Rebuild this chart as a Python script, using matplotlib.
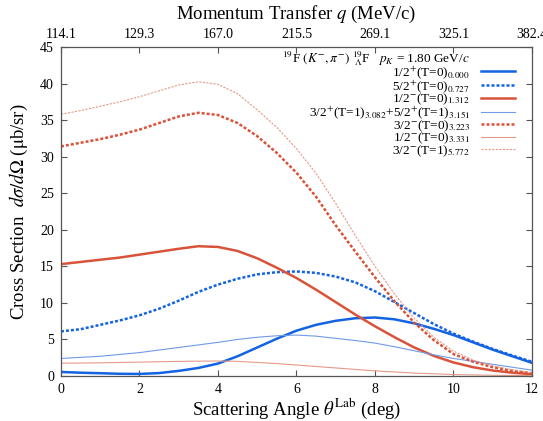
import numpy as np
import matplotlib
matplotlib.use('Agg')
import matplotlib.pyplot as plt
from matplotlib.lines import Line2D

plt.rcParams['font.family'] = ['Liberation Serif', 'DejaVu Serif']
plt.rcParams['mathtext.fontset'] = 'stix'

# 산란각 (deg)
theta = [0, 0.5, 1, 1.5, 2, 2.5, 3, 3.5, 4, 4.5, 5, 5.5, 6, 6.5, 7, 7.5, 8, 8.5,
         9, 9.5, 10, 10.5, 11, 11.5, 12]

s_half_p_000 = [0.55, 0.45, 0.38, 0.3, 0.28, 0.4, 0.7, 1.1, 1.7, 2.7, 3.9, 5.1, 6.2,
                7.0, 7.55, 7.9, 8.0, 7.75, 7.2, 6.45, 5.6, 4.6, 3.6, 2.7, 1.8]
s_52p_0727 = [6.1, 6.4, 7.0, 7.6, 8.3, 9.2, 10.3, 11.5, 12.5, 13.3, 13.9, 14.2, 14.3,
              14.1, 13.6, 12.8, 11.6, 10.1, 8.6, 7.1, 5.8, 4.7, 3.7, 2.8, 1.95]
s_half_m_1312 = [15.3, 15.6, 15.9, 16.2, 16.6, 17.0, 17.4, 17.75, 17.65, 17.1, 16.1, 14.8,
                 13.4, 11.8, 10.1, 8.4, 6.8, 5.3, 3.9, 2.75, 1.85, 1.2, 0.75, 0.45, 0.25]
s_32p_52p = [2.4, 2.55, 2.7, 2.95, 3.2, 3.55, 3.9, 4.25, 4.6, 5.0, 5.3, 5.5, 5.6, 5.45,
             5.15, 4.85, 4.5, 4.0, 3.45, 2.9, 2.4, 2.0, 1.6, 1.2, 0.8]
s_32m_3223 = [31.4, 31.9, 32.4, 33.0, 33.7, 34.6, 35.5, 36.0, 35.7, 34.6, 32.8, 30.5,
              27.8, 24.5, 20.6, 17.0, 13.5, 10.2, 7.3, 4.9, 3.0, 1.95, 1.2, 0.7, 0.35]
s_half_m_3331 = [1.75, 1.77, 1.8, 1.85, 1.9, 1.95, 2.0, 2.03, 2.05, 2.0, 1.85, 1.7, 1.5,
                 1.3, 1.1, 0.9, 0.7, 0.55, 0.4, 0.3, 0.2, 0.15, 0.1, 0.07, 0.05]
s_32m_5772 = [35.8, 36.3, 36.9, 37.5, 38.2, 39.0, 39.8, 40.25, 39.9, 38.6, 36.4, 34.0,
              31.1, 27.7, 23.6, 19.2, 15.0, 11.2, 7.9, 5.3, 3.4, 2.2, 1.4, 0.85, 0.5]

q_ticks = [0, 2, 4, 6, 8, 10, 12]
q_labels = ['114.1', '129.3', '167.0', '215.5', '269.1', '325.1', '382.4']

blue = '#1463e2'
red = '#d9533a'
lblue = '#6f9be6'
lred = '#e39a88'

fig = plt.figure(figsize=(5.43, 4.21), dpi=100)
ax = fig.add_axes([0.1123, 0.1069, 0.8674, 0.7815])

series = [
    (s_half_p_000, dict(color=blue, lw=1.8, ls='-'), r'1/2$^{+}$(T=0)$_{0.000}$'),
    (s_52p_0727, dict(color=blue, lw=1.8, ls=(0, (1.2, 0.8))), r'5/2$^{+}$(T=0)$_{0.727}$'),
    (s_half_m_1312, dict(color=red, lw=1.8, ls='-'), r'1/2$^{-}$(T=0)$_{1.312}$'),
    (s_32p_52p, dict(color=lblue, lw=0.8, ls='-'), r'3/2$^{+}$(T=1)$_{3.082}$+5/2$^{+}$(T=1)$_{3.151}$'),
    (s_32m_3223, dict(color=red, lw=1.8, ls=(0, (1.2, 0.8))), r'3/2$^{-}$(T=0)$_{3.223}$'),
    (s_half_m_3331, dict(color=lred, lw=0.8, ls='-'), r'1/2$^{-}$(T=0)$_{3.331}$'),
    (s_32m_5772, dict(color=lred, lw=0.8, ls=(0, (2, 1.2))), r'3/2$^{-}$(T=1)$_{5.772}$'),
]

handles = []
for vals, st, lab in series:
    ax.plot(theta, vals, **st)
    handles.append(Line2D([], [], **st))

ax.set_xlim(0, 12)
ax.set_ylim(0, 45)
ax.set_xticks([0, 2, 4, 6, 8, 10, 12])
ax.set_yticks(range(0, 46, 5))
ax.tick_params(direction='in', length=4, width=0.8, labelsize=10, color='#555555',
               right=True, pad=5)
for sp in ax.spines.values():
    sp.set_color('#555555')
    sp.set_linewidth(0.9)

ax.set_xlabel(r'Scattering Angle $\theta^{\mathrm{Lab}}$ (deg)', fontsize=13.5, labelpad=1)
ax.set_ylabel(r'Cross Section  $d\sigma/d\Omega$ ($\mathrm{\mu}$b/sr)', fontsize=13.5, labelpad=7)

ax2 = ax.twiny()
ax2.set_xlim(ax.get_xlim())
ax2.set_xticks(q_ticks)
ax2.set_xticklabels(q_labels)
ax2.tick_params(direction='in', length=4, width=0.8, labelsize=10, color='#555555', pad=4)
ax2.set_xlabel(r'Momentum Transfer $q$ (MeV/c)', fontsize=13.5, labelpad=7)
for sp in ax2.spines.values():
    sp.set_visible(False)

ax.text(0.867, 0.966, r'$^{19}$F $(K^{-},\pi^{-})$ $^{19}_{\ \Lambda}$F   $p_K$ = 1.80 GeV/$c$',
        transform=ax.transAxes, ha='right', va='center', fontsize=9.5)

leg = ax.legend(handles, [s[2] for s in series], loc='upper right',
                bbox_to_anchor=(0.964, 0.949), frameon=False, markerfirst=False,
                fontsize=9.5, handlelength=2.6, handletextpad=0.8,
                labelspacing=-0.22, borderpad=0, borderaxespad=0)

fig.savefig('out.png', dpi=100)
